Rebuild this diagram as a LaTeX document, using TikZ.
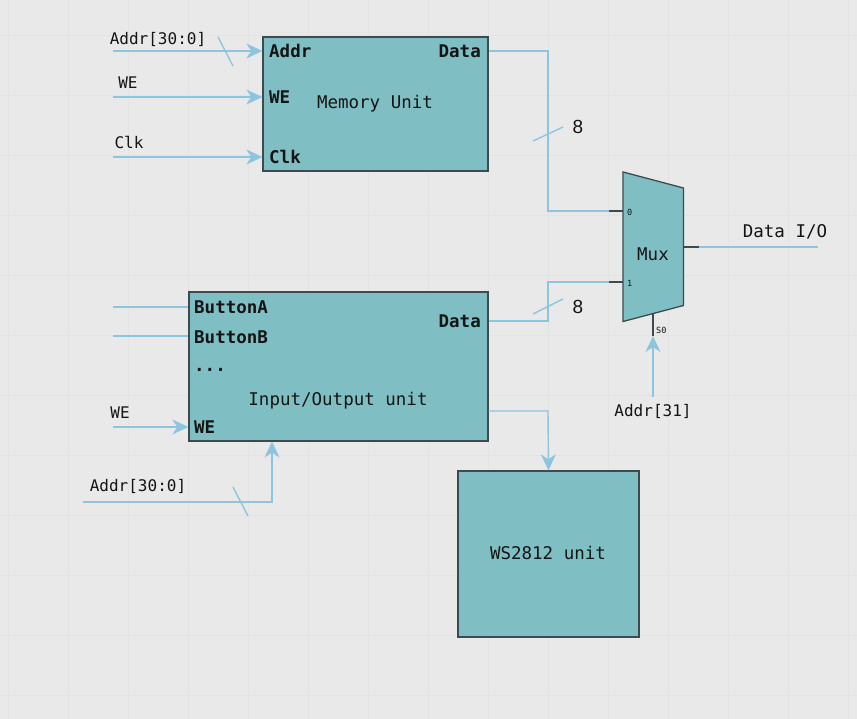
\documentclass[tikz,border=0pt]{standalone}
\usepackage{fontspec}
\setmainfont{DejaVu Sans Mono}
\newfontfamily\numfont{Liberation Sans}
\usetikzlibrary{arrows.meta,positioning}
\definecolor{bgcol}{HTML}{E9E9E9}
\definecolor{gridcol}{HTML}{E3E3E3}
\definecolor{unitfill}{HTML}{7FBFC4}
\definecolor{unitdraw}{HTML}{3D4A50}
\definecolor{wirecol}{HTML}{8EC5DE}
\definecolor{txtcol}{HTML}{141414}

\begin{document}
\begin{tikzpicture}[x=1pt, y=-1pt,
  unitbox/.style={draw=unitdraw, fill=unitfill, line width=1.3pt, rectangle, inner sep=0pt},
  title/.style={font=\fontsize{17.5}{20}\selectfont, text=txtcol, inner sep=0pt},
  port/.style={font=\fontsize{17.5}{20}\selectfont\bfseries, text=txtcol, inner sep=0pt},
  sig/.style={font=\fontsize{16}{19}\selectfont, text=txtcol, inner sep=0pt},
  tiny/.style={font=\fontsize{8.5}{10}\selectfont, text=txtcol, inner sep=0pt},
  buswidth/.style={font=\numfont\fontsize{19}{22}\selectfont, text=txtcol, inner sep=0pt},
  wire/.style={draw=wirecol, line width=1.4pt},
  stub/.style={draw=unitdraw, line width=1.4pt},
  inwire/.style={wire, -{Stealth[length=16pt, width=15pt, inset=5pt]}}]
  \useasboundingbox (0,0) rectangle (857,719);
  \fill[bgcol] (0,0) rectangle (857,719);
  \foreach \gx in {8,68,...,848} \draw[gridcol, line width=0.8pt] (\gx,0) -- (\gx,719);
  \foreach \gy in {35,95,...,695} \draw[gridcol, line width=0.8pt] (0,\gy) -- (857,\gy);

  % memory unit
  \node[unitbox, minimum width=225pt, minimum height=134pt] (mem) at (375.5,104) {};
  \node[title] (memlabel) at (375,104) {Memory Unit};
  \node[port, anchor=west] (memaddr) at (269,51) {Addr};
  \node[port, anchor=west] (memwe) at (269,97) {WE};
  \node[port, anchor=west] (memclk) at (269,157) {Clk};
  \node[port, anchor=east] (memdata) at (481,51) {Data};
  \coordinate (addrin) at (113,51);
  \coordinate (wein) at (113,97);
  \coordinate (clkin) at (113,157);
  \draw[inwire] (addrin) -- (mem.west |- addrin);
  \draw[inwire] (wein) -- (mem.west |- wein);
  \draw[inwire] (clkin) -- (mem.west |- clkin);
  \draw[wire] (218,37) -- (233,66);
  \node[sig] (addrlbl) at (158,39) {Addr[30:0]};
  \node[sig] (welbl) at (128,83) {WE};
  \node[sig] (clklbl) at (129,142) {Clk};

  % mux
  \draw[unitdraw, fill=unitfill, line width=1.3pt] (623,172) -- (683.5,188) -- (683.5,305.5) -- (623,321.5) -- cycle;
  \node[title] (mux) at (653,254) {Mux};
  \coordinate (mux0) at (623,211);
  \coordinate (mux1) at (623,282);
  \coordinate (muxout) at (683.5,247);
  \coordinate (muxsel) at (653,313.5);
  \node[tiny, anchor=west] (lbl0) at (627,212) {0};
  \node[tiny, anchor=west] (lbl1) at (627,283) {1};
  \node[tiny, anchor=west] (lbls) at (656,330) {S0};
  \draw[stub] (mux0) -- ++(-14,0) coordinate (mux0w);
  \draw[stub] (mux1) -- ++(-14,0) coordinate (mux1w);
  \draw[stub] (muxout) -- ++(15,0) coordinate (muxoute);
  \draw[stub] (muxsel) -- (653,336) coordinate (muxsels);
  \coordinate (dataio) at (818,247);
  \draw[wire] (muxoute) -- (dataio);
  \node[title] (dataiolbl) at (785,232) {Data I/O};
  \coordinate (selin) at (653,397);
  \draw[inwire] (selin) -- (muxsels);
  \node[sig] (sellbl) at (653,411) {Addr[31]};

  % memory data to mux
  \draw[wire] (mem.east |- memdata) -- (548,51) -- (548,211) -- (mux0w);
  \draw[wire] (533,141) -- (563,127);
  \node[buswidth] (w8a) at (578,127) {8};

  % input/output unit
  \node[unitbox, minimum width=299pt, minimum height=149pt] (io) at (338.5,366.5) {};
  \node[title] (iolabel) at (338,401) {Input/Output unit};
  \node[port, anchor=west] (btna) at (194,307) {ButtonA};
  \node[port, anchor=west] (btnb) at (194,337) {ButtonB};
  \node[port, anchor=west] (dots) at (194,370) {...};
  \node[port, anchor=west] (iowe) at (194,427) {WE};
  \node[port, anchor=east] (iodata) at (481,321) {Data};
  \coordinate (btnain) at (113,307);
  \coordinate (btnbin) at (113,336);
  \coordinate (iowein) at (113,427);
  \draw[wire] (btnain) -- (io.west |- btnain);
  \draw[wire] (btnbin) -- (io.west |- btnbin);
  \draw[inwire] (iowein) -- (io.west |- iowein);
  \node[sig] (iowelbl) at (120,413) {WE};
  \coordinate (ioaddrin) at (83,502);
  \draw[inwire] (ioaddrin) -- (272,502) -- (272,441.5);
  \draw[wire] (233,487) -- (248,516);
  \node[sig] (ioaddrlbl) at (138,486) {Addr[30:0]};
  \draw[wire] (io.east |- iodata) -- (548,321) -- (548,282) -- (mux1w);
  \draw[wire] (533,314) -- (563,299);
  \node[buswidth] (w8b) at (578,307) {8};

  % ws2812
  \node[unitbox, minimum width=181pt, minimum height=166pt] (ws) at (548.5,554) {};
  \node[title] (wslabel) at (548,553) {WS2812 unit};
  \draw[inwire] (io.east |- 0,411) -- (548,411) -- (ws.north);
\end{tikzpicture}
\end{document}
